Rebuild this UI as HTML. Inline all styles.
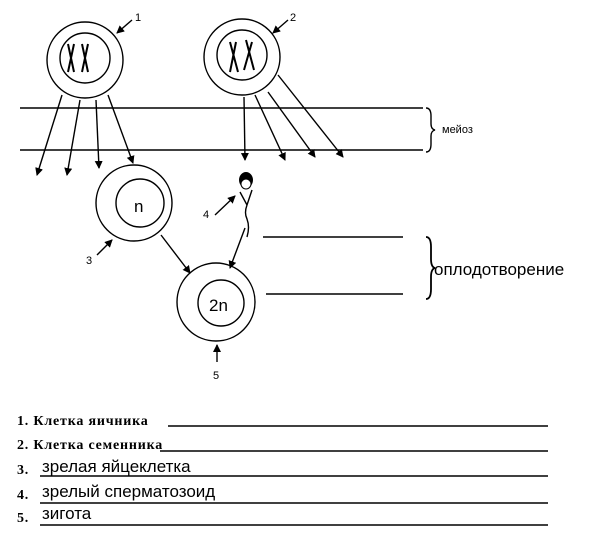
<!DOCTYPE html><html><head><meta charset="utf-8"><style>body{margin:0;background:#fff}svg{display:block}</style></head><body>
<svg width="600" height="536" viewBox="0 0 600 536" xmlns="http://www.w3.org/2000/svg">
<defs><marker id="a" markerWidth="8" markerHeight="8" refX="7" refY="4" orient="auto" markerUnits="userSpaceOnUse"><path d="M0,0 L8,4 L0,8 Z" fill="#000"/></marker></defs>
<g fill="none" stroke="#000" stroke-width="1.4">
<circle cx="85" cy="60" r="38"/><circle cx="85" cy="58" r="25"/>
<circle cx="242" cy="57" r="38"/><circle cx="242" cy="55" r="25"/>
<circle cx="134" cy="203" r="38"/><circle cx="140" cy="203" r="24"/>
<circle cx="216" cy="302" r="39"/><circle cx="221" cy="303" r="23"/>
<line x1="20" y1="108" x2="423" y2="108"/><line x1="20" y1="150" x2="423" y2="150"/>
<line x1="263" y1="237" x2="403" y2="237"/><line x1="266" y1="294" x2="403" y2="294"/>
<path d="M426,108 q5,0 5,8 v8 q0,5 4,6 q-4,1 -4,6 v8 q0,8 -5,8"/>
<path d="M426,237 q5,0 5,10 v12 q0,8 4,9 q-4,1 -4,9 v12 q0,10 -5,10" stroke-width="1.8"/>
<g marker-end="url(#a)">
<line x1="62" y1="95" x2="37" y2="175"/><line x1="80" y1="100" x2="67" y2="175"/>
<line x1="96" y1="100" x2="99" y2="168"/><line x1="108" y1="95" x2="133" y2="163"/>
<line x1="244" y1="97" x2="245" y2="160"/><line x1="255" y1="95" x2="285" y2="160"/>
<line x1="268" y1="92" x2="315" y2="157"/><line x1="278" y1="75" x2="343" y2="157"/>
<line x1="215" y1="215" x2="235" y2="196"/><line x1="97" y1="255" x2="112" y2="240"/>
<line x1="132" y1="20" x2="117" y2="33"/><line x1="288" y1="20" x2="273" y2="33"/>
<line x1="161" y1="235" x2="190" y2="273"/><line x1="245" y1="228" x2="230" y2="268"/>
<line x1="217" y1="362" x2="217" y2="345"/>
</g>
<path d="M240,192 L247,205 L252,190 M247,205 q-3,8 0,14 q3,8 0,18"/>
<path d="M68,44 l6,28 M74,44 l-6,28 M82,44 l6,28 M88,44 l-6,28 M230,42 l8,30 M236,42 l-6,30 M246,40 l8,30 M252,42 l-8,28" stroke-width="2"/>
<line x1="168" y1="426" x2="548" y2="426"/><line x1="160" y1="451" x2="548" y2="451"/>
<line x1="40" y1="476" x2="548" y2="476"/><line x1="40" y1="503" x2="548" y2="503"/><line x1="40" y1="525" x2="548" y2="525"/>
</g>
<ellipse cx="246" cy="180" rx="7" ry="8" fill="#000"/><circle cx="246" cy="184" r="5" fill="#fff" stroke="#000"/>
<g font-family="Liberation Sans, sans-serif" fill="#000">
<text x="135" y="21" font-size="11">1</text><text x="290" y="21" font-size="11">2</text>
<text x="203" y="218" font-size="11">4</text><text x="86" y="264" font-size="11">3</text><text x="213" y="379" font-size="11">5</text>
<text x="134" y="212" font-size="17">n</text><text x="209" y="311" font-size="17">2n</text>
<text x="442" y="133" font-size="11">мейоз</text>
<text x="434" y="275" font-size="17">оплодотворение</text>
<text x="42" y="472" font-size="17">зрелая яйцеклетка</text>
<text x="42" y="497" font-size="17">зрелый сперматозоид</text>
<text x="42" y="519" font-size="17">зигота</text>
</g>
<g font-family="Liberation Serif, serif" font-size="14" fill="#000" font-weight="bold" letter-spacing="0.8">
<text x="17" y="425">1. Клетка яичника</text><text x="17" y="449">2. Клетка семенника</text>
<text x="17" y="474">3.</text><text x="17" y="499">4.</text><text x="17" y="522">5.</text>
</g>
</svg></body></html>
